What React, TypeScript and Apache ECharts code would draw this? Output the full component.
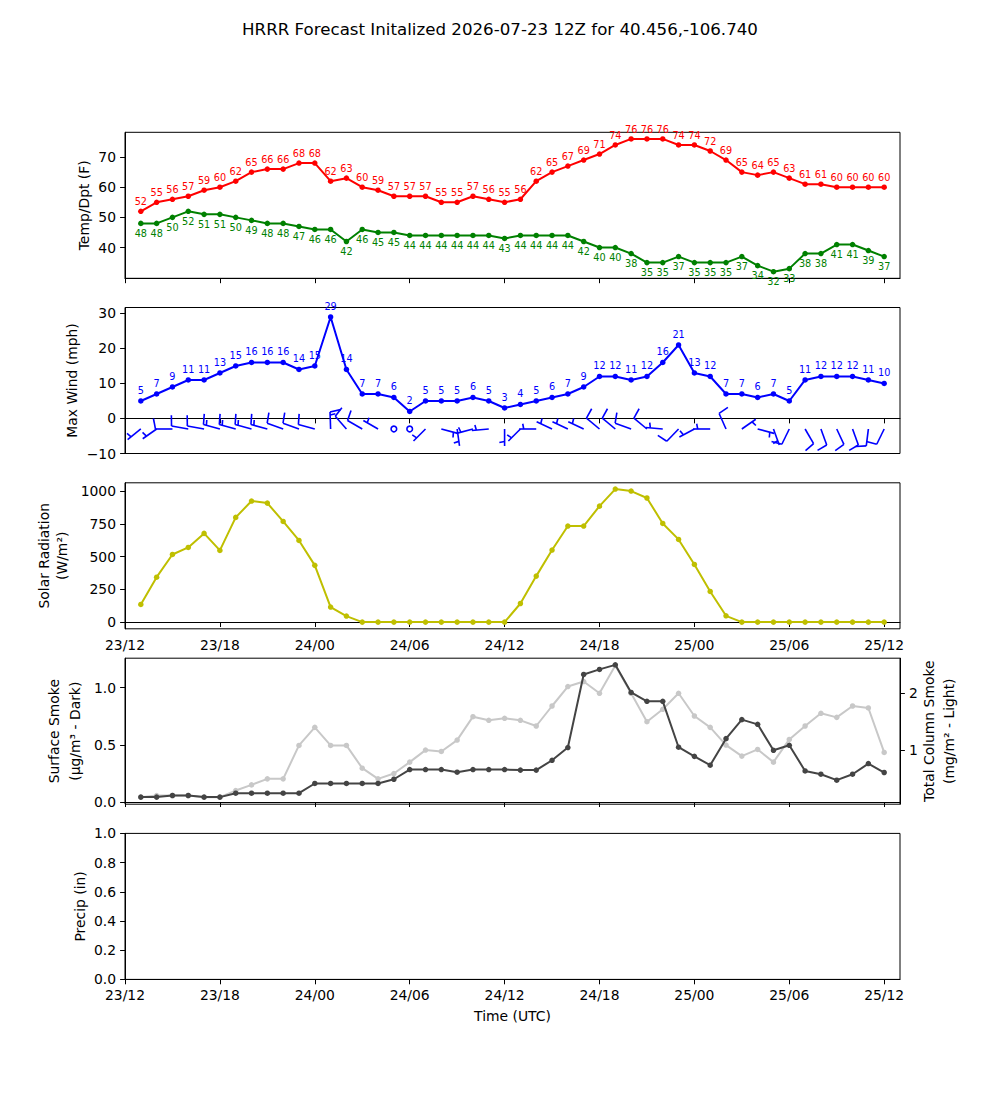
import React, { useEffect, useRef } from "react";
import * as echarts from "echarts";

// Forecast hours counted from 23/00 UTC
const hours = [13, 14, 15, 16, 17, 18, 19, 20, 21, 22, 23, 24, 25, 26, 27, 28, 29, 30, 31, 32, 33, 34, 35, 36,
  37, 38, 39, 40, 41, 42, 43, 44, 45, 46, 47, 48, 49, 50, 51, 52, 53, 54, 55, 56, 57, 58, 59, 60];

const tempF = [52, 55, 56, 57, 59, 60, 62, 65, 66, 66, 68, 68, 62, 63, 60, 59, 57, 57, 57, 55, 55, 57, 56, 55,
  56, 62, 65, 67, 69, 71, 74, 76, 76, 76, 74, 74, 72, 69, 65, 64, 65, 63, 61, 61, 60, 60, 60, 60];

const dewpointF = [48, 48, 50, 52, 51, 51, 50, 49, 48, 48, 47, 46, 46, 42, 46, 45, 45, 44, 44, 44, 44, 44, 44, 43,
  44, 44, 44, 44, 42, 40, 40, 38, 35, 35, 37, 35, 35, 35, 37, 34, 32, 33, 38, 38, 41, 41, 39, 37];

const maxWindMph = [5, 7, 9, 11, 11, 13, 15, 16, 16, 16, 14, 15, 29, 14, 7, 7, 6, 2, 5, 5, 5, 6, 5, 3,
  4, 5, 6, 7, 9, 12, 12, 11, 12, 16, 21, 13, 12, 7, 7, 6, 7, 5, 11, 12, 12, 12, 11, 10];

// wind barbs: direction the wind blows from (deg) and speed (kt)
const windDirDeg = [231, 235, 270, 280, 280, 285, 285, 285, 285, 290, 290, 285, 358, 319, 300, 300, 0, 0, 225, 105, 172, 255, 265, 180,
  225, 270, 295, 295, 295, 310, 310, 290, 310, 275, 224, 242, 270, 336, 55, 105, 160, 206, 150, 160, 155, 160, 187, 206];
const windSpeedKt = [5, 5, 10, 10, 10, 15, 15, 15, 15, 10, 10, 10, 15, 10, 10, 5, 0, 0, 5, 5, 5, 5, 5, 5,
  5, 5, 5, 5, 5, 10, 10, 10, 10, 5, 10, 5, 5, 10, 5, 5, 5, 10, 10, 10, 10, 10, 10, 10];

const solarRad = [135, 343, 516, 570, 677, 547, 799, 924, 908, 768, 623, 433, 115, 46, 0, 0, 0, 0, 0, 0, 0, 0, 0, 0,
  142, 351, 550, 733, 733, 885, 1015, 1000, 947, 753, 631, 440, 234, 48, 0, 0, 0, 0, 0, 0, 0, 0, 0, 0];

const surfaceSmoke = [0.044, 0.044, 0.058, 0.058, 0.044, 0.044, 0.078, 0.078, 0.078, 0.078, 0.078, 0.163, 0.163, 0.163, 0.163, 0.163,
  0.2, 0.285, 0.285, 0.285, 0.262, 0.285, 0.285, 0.285,
  0.28, 0.28, 0.366, 0.477, 1.116, 1.16, 1.2, 0.959, 0.881, 0.881, 0.48, 0.4, 0.323, 0.555, 0.721, 0.68, 0.453, 0.497,
  0.273, 0.244, 0.192, 0.244, 0.337, 0.259];

const columnSmoke = [0.171, 0.2, 0.2, 0.2, 0.171, 0.171, 0.288, 0.388, 0.494, 0.494, 1.082, 1.4, 1.082, 1.082, 0.682, 0.494,
  0.588, 0.788, 1.0, 0.976, 1.176, 1.588, 1.524, 1.559,
  1.524, 1.424, 1.776, 2.118, 2.206, 2.0, 2.488, 2.0, 1.5, 1.718, 2.0, 1.6, 1.4, 1.088, 0.894, 1.012, 0.788, 1.188,
  1.424, 1.647, 1.576, 1.776, 1.741, 0.959];

const timeTicks = [12, 18, 24, 30, 36, 42, 48, 54, 60];
const tempTicks = [40, 50, 60, 70];
const windTicks = [-10, 0, 10, 20, 30];
const solarTicks = [0, 250, 500, 750, 1000];
const smokeTicks = [0, 0.5, 1.0];
const columnTicks = [1, 2];
const precipTicks = [0, 0.2, 0.4, 0.6, 0.8, 1.0];
const barbLevel = -3;

const TITLE = "HRRR Forecast Initalized 2026-07-23 12Z for 40.456,-106.740";
const FONT = "DejaVu Sans";

const fmtTime = (v: number) => {
  const d = 23 + Math.floor(v / 24);
  const h = v % 24;
  return `${d}/${String(h).padStart(2, "0")}`;
};
const fmtMinus = (v: number) => (v < 0 ? "\u2212" + Math.abs(v) : String(v));

export default function App() {
  const ref = useRef<HTMLDivElement>(null);

  useEffect(() => {
    if (!ref.current) return;
    const chart = echarts.init(ref.current, null, { renderer: "svg" });

    const gridLeft = 125;
    const gridWidth = 775;
    const gridHeight = 146;
    const tops = [132.3, 307.5, 482.8, 658.2, 833.4];

    const tickStyle = { color: "#000", width: 1 };
    const labelBase = { color: "#000", fontSize: 13.9, fontFamily: FONT };

    const makeX = (gi: number, showLabels: boolean, name?: string) => ({
      type: "value",
      gridIndex: gi,
      min: 12,
      max: 61,
      axisLine: { show: true, lineStyle: tickStyle },
      axisTick: { show: true, length: 4.9, inside: false, customValues: timeTicks, lineStyle: tickStyle },
      axisLabel: { show: showLabels, customValues: timeTicks, formatter: fmtTime, margin: 9, ...labelBase },
      splitLine: { show: false },
      name: name || "",
      nameLocation: "middle",
      nameGap: 30,
      nameMoveOverlap: false,
      nameTextStyle: { ...labelBase },
    });

    const makeY = (gi: number, min: number, max: number, ticks: number[], fmt: (v: number) => string,
      name: string, nameGap: number, lineHeight: number, position = "left") => ({
      type: "value",
      gridIndex: gi,
      min,
      max,
      position,
      axisLine: { show: true, lineStyle: tickStyle },
      axisTick: { show: true, length: 4.9, inside: false, customValues: ticks, lineStyle: tickStyle },
      axisLabel: { show: true, customValues: ticks, formatter: fmt, margin: 9, ...labelBase },
      splitLine: { show: false },
      name,
      nameLocation: "middle",
      nameRotate: 90,
      nameGap,
      nameMoveOverlap: false,
      nameTextStyle: { ...labelBase, lineHeight },
    });

    const pts = (vals: number[]) => hours.map((h, i) => [h, vals[i]]);
    const dataLabel = (color: string, position: string, distance: number) => ({
      show: true,
      position,
      distance,
      color,
      fontSize: 9.7,
      fontFamily: FONT,
      formatter: (p: any) => String(p.value[1]),
    });

    const barbData = hours.map((h, i) => [h, barbLevel, windSpeedKt[i], windDirDeg[i]]);

    const option: any = {
      animation: false,
      backgroundColor: "#fff",
      textStyle: { fontFamily: FONT },
      title: {
        text: TITLE,
        left: "center",
        top: 16,
        textStyle: { fontSize: 16.67, fontWeight: "normal", color: "#000", fontFamily: FONT },
      },
      grid: tops.map((t) => ({
        left: gridLeft,
        top: t,
        width: gridWidth,
        height: gridHeight,
        show: true,
        borderColor: "#000",
        borderWidth: 1,
        backgroundColor: "transparent",
        containLabel: false,
      })),
      xAxis: [
        makeX(0, false),
        makeX(1, false),
        makeX(2, true),
        makeX(3, false),
        makeX(4, true, "Time (UTC)"),
      ],
      yAxis: [
        makeY(0, 29.8, 78.2, tempTicks, fmtMinus, "Temp/Dpt (F)", 32, 18),
        makeY(1, -10, 31.7, windTicks, fmtMinus, "Max Wind (mph)", 44, 18),
        makeY(2, -51, 1063, solarTicks, fmtMinus, "Solar Radiation\n(W/m\u00B2)", 54, 18),
        makeY(3, -0.018, 1.258, smokeTicks, (v: number) => v.toFixed(1), "Surface Smoke\n(\u03BCg/m\u00B3 - Dark)", 40, 21),
        makeY(3, 0.048, 2.617, columnTicks, (v: number) => String(v), "Total Column Smoke\n(mg/m\u00B2 - Light)", 19, 20, "right"),
        makeY(4, 0, 1, precipTicks, (v: number) => v.toFixed(1), "Precip (in)", 36, 18),
      ],
      series: [
        {
          type: "line",
          xAxisIndex: 0,
          yAxisIndex: 0,
          data: pts(tempF),
          color: "#ff0000",
          lineStyle: { width: 2 },
          symbol: "circle",
          symbolSize: 5.5,
          label: dataLabel("#ff0000", "top", 2),
          z: 3,
        },
        {
          type: "line",
          xAxisIndex: 0,
          yAxisIndex: 0,
          data: pts(dewpointF),
          color: "#008000",
          lineStyle: { width: 2 },
          symbol: "circle",
          symbolSize: 5.5,
          label: dataLabel("#008000", "bottom", 2),
          z: 3,
        },
        {
          type: "line",
          xAxisIndex: 1,
          yAxisIndex: 1,
          data: pts(maxWindMph),
          color: "#0000ff",
          lineStyle: { width: 2 },
          symbol: "circle",
          symbolSize: 5.5,
          label: dataLabel("#0000ff", "top", 3),
          z: 3,
        },
        {
          type: "custom",
          xAxisIndex: 1,
          yAxisIndex: 1,
          data: barbData,
          silent: true,
          z: 4,
          renderItem: (params: any, api: any) => {
            const h = api.value(0);
            const lvl = api.value(1);
            const spd = api.value(2);
            const dir = api.value(3);
            const c = api.coord([h, lvl]);
            const ax = c[0];
            const ay = c[1];
            const style = { stroke: "#0000ff", lineWidth: 1.6, fill: "none" };
            const r5 = Math.round(spd / 5) * 5;
            if (r5 < 5) {
              return { type: "circle", shape: { cx: ax, cy: ay, r: 2.8 }, style };
            }
            const rad = (dir * Math.PI) / 180;
            const sx = Math.sin(rad), sy = Math.cos(rad);
            const px = Math.cos(rad), py = -Math.sin(rad);
            const pt = (a: number, b: number) => [ax + a * sx + b * px, ay - (a * sy + b * py)];
            const L = 17, bh = 10.5, bw = 2, sp = 3;
            const children: any[] = [];
            const tip = pt(L, 0);
            children.push({ type: "line", shape: { x1: ax, y1: ay, x2: tip[0], y2: tip[1] }, style });
            let rest = r5;
            const n50 = Math.floor(rest / 50); rest -= n50 * 50;
            const n10 = Math.floor(rest / 10); rest -= n10 * 10;
            const half = rest >= 5;
            let off = L;
            for (let k = 0; k < n50; k++) {
              children.push({ type: "polygon", shape: { points: [pt(off, 0), pt(off - 2, bh), pt(off - 4, 0)] },
                style: { fill: "#0000ff", stroke: "#0000ff", lineWidth: 1 } });
              off -= 4 + sp;
            }
            for (let k = 0; k < n10; k++) {
              const a = pt(off, 0), b = pt(off + bw, bh);
              children.push({ type: "line", shape: { x1: a[0], y1: a[1], x2: b[0], y2: b[1] }, style });
              off -= sp;
            }
            if (half) {
              if (off === L) off -= 1.5 * sp;
              const a = pt(off, 0), b = pt(off + bw / 2, bh / 2);
              children.push({ type: "line", shape: { x1: a[0], y1: a[1], x2: b[0], y2: b[1] }, style });
            }
            return { type: "group", children };
          },
        },
        {
          type: "line",
          xAxisIndex: 2,
          yAxisIndex: 2,
          data: pts(solarRad),
          color: "#bfbf00",
          lineStyle: { width: 2 },
          symbol: "circle",
          symbolSize: 5.5,
        },
        {
          type: "line",
          xAxisIndex: 3,
          yAxisIndex: 4,
          data: pts(columnSmoke),
          color: "#c8c8c8",
          lineStyle: { width: 2 },
          symbol: "circle",
          symbolSize: 5.5,
          z: 2,
        },
        {
          type: "line",
          xAxisIndex: 3,
          yAxisIndex: 3,
          data: pts(surfaceSmoke),
          color: "#444444",
          lineStyle: { width: 2 },
          symbol: "circle",
          symbolSize: 5.5,
          z: 3,
        },
      ],
    };

    chart.setOption(option);
    return () => chart.dispose();
  }, []);

  return (
    <div
      ref={ref}
      style={{ position: "absolute", left: 0, top: 0, width: 1000, height: 1100, background: "#fff" }}
    />
  );
}
